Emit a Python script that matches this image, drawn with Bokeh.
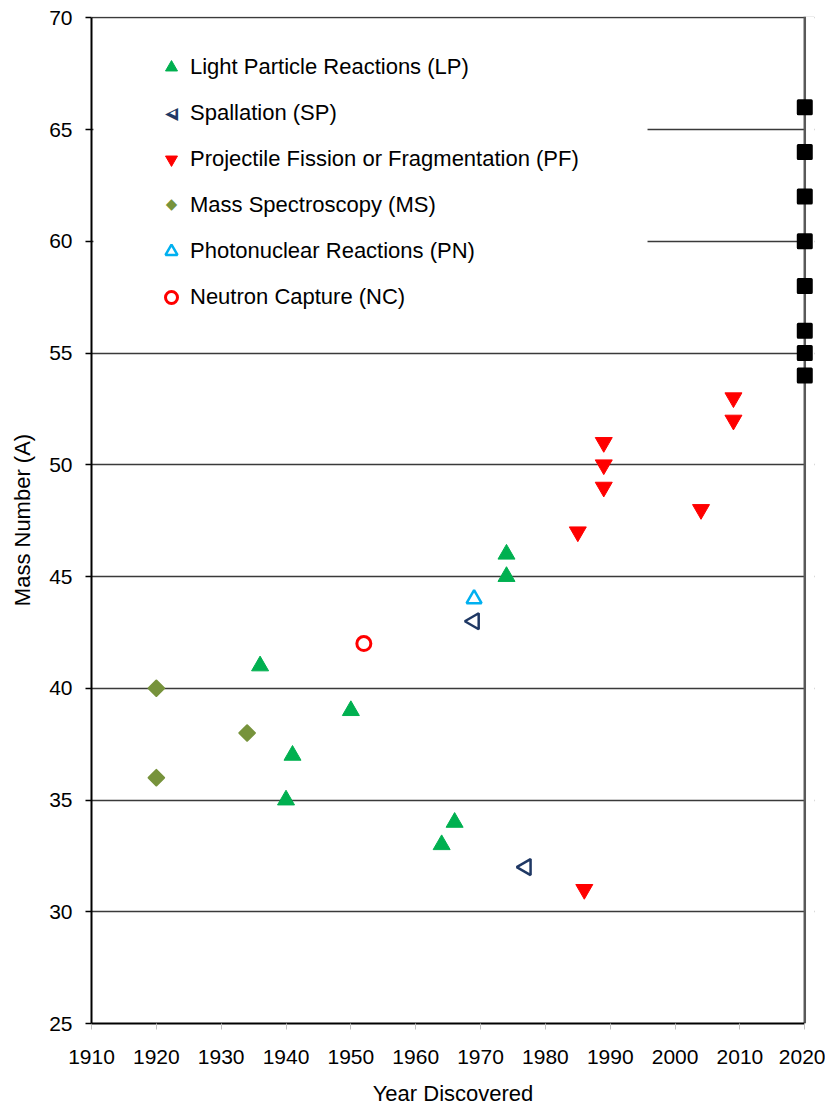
import math
from bokeh.plotting import figure
from bokeh.models import (FixedTicker, Range1d, Legend, LegendItem, BoxAnnotation,
                          Span, Label)
from bokeh.embed import file_html
from bokeh.resources import INLINE

# ---------------- data ----------------
lp_year = [1936, 1940, 1941, 1950, 1964, 1966, 1974, 1974]
lp_mass = [41, 35, 37, 39, 33, 34, 45, 46]

sp_year = [1969, 1977]
sp_mass = [43, 32]

pf_year = [1985, 1986, 1989, 1989, 1989, 2004, 2009, 2009]
pf_mass = [47, 31, 49, 50, 51, 48, 52, 53]

ms_year = [1920, 1920, 1934]
ms_mass = [36, 40, 38]

pn_year = [1969]
pn_mass = [44]

nc_year = [1952]
nc_mass = [42]

pred_year = [2020, 2020, 2020, 2020, 2020, 2020, 2020, 2020]
pred_mass = [54, 55, 56, 58, 60, 62, 64, 66]

x_ticks = [1910, 1920, 1930, 1940, 1950, 1960, 1970, 1980, 1990, 2000, 2010, 2020]
y_ticks = [25, 30, 35, 40, 45, 50, 55, 60, 65, 70]

labels = ["Light Particle Reactions (LP)", "Spallation (SP)",
          "Projectile Fission or Fragmentation (PF)", "Mass Spectroscopy (MS)",
          "Photonuclear Reactions (PN)", "Neutron Capture (NC)"]

FONT = "Liberation Sans"
X_MIN, X_MAX = 1910, 2020

p = figure(width=825, height=1108,
           x_range=Range1d(X_MIN, 2021.5), y_range=Range1d(25, 70.06),
           output_backend="svg", toolbar_location=None,
           min_border_left=91, min_border_right=11,
           min_border_top=16, min_border_bottom=85)
p.outline_line_color = None
p.background_fill_color = "white"
p.border_fill_color = "white"

# grid
p.xgrid.visible = False
p.ygrid.ticker = FixedTicker(ticks=y_ticks[1:])
p.ygrid.grid_line_color = "#3a3a3a"
p.ygrid.grid_line_width = 1.3

# white box behind legend (hides grid lines there)
p.add_layout(BoxAnnotation(left=X_MIN + 0.3, right=1995.75, bottom=56.5, top=69.9,
                           fill_color="white", fill_alpha=1.0, line_color=None,
                           level="underlay"))
# white strip right of the last year (grid stops at the right border)
p.add_layout(BoxAnnotation(left=X_MAX, fill_color="white", fill_alpha=1.0,
                           line_color=None, level="underlay"))

# right border
p.add_layout(Span(location=X_MAX, dimension="height", line_color="#595959",
                  line_width=2.5, level="underlay"))

# axes
p.yaxis.ticker = FixedTicker(ticks=y_ticks)
p.yaxis.bounds = (25, 70)
p.yaxis.axis_line_color = "black"
p.yaxis.axis_line_width = 2
p.yaxis.major_tick_line_color = "black"
p.yaxis.major_tick_line_width = 1.5
p.yaxis.major_tick_out = 6
p.yaxis.major_tick_in = 0
p.yaxis.minor_tick_line_color = None
p.yaxis.major_label_text_font = FONT
p.yaxis.major_label_text_font_size = "21px"
p.yaxis.major_label_text_color = "black"
p.yaxis.major_label_standoff = 13
p.yaxis.axis_label = "Mass Number (A)"
p.yaxis.axis_label_text_font = FONT
p.yaxis.axis_label_text_font_size = "22px"
p.yaxis.axis_label_text_font_style = "normal"
p.yaxis.axis_label_text_color = "black"
p.yaxis.axis_label_standoff = 11

p.xaxis.ticker = FixedTicker(ticks=x_ticks)
p.xaxis.bounds = (X_MIN, X_MAX)
p.xaxis.axis_line_color = "black"
p.xaxis.axis_line_width = 2
p.xaxis.major_tick_line_color = "#c0c0c0"
p.xaxis.major_tick_line_width = 1
p.xaxis.major_tick_out = 6
p.xaxis.major_tick_in = 0
p.xaxis.minor_tick_line_color = None
p.xaxis.major_label_text_font = FONT
p.xaxis.major_label_text_font_size = "21px"
p.xaxis.major_label_text_color = "black"
p.xaxis.major_label_standoff = 20
p.xaxis.axis_label = "Year Discovered"
p.xaxis.axis_label_text_font = FONT
p.xaxis.axis_label_text_font_size = "22px"
p.xaxis.axis_label_text_font_style = "normal"
p.xaxis.axis_label_text_color = "black"
p.xaxis.axis_label_standoff = 14

# glyphs
r_pred = p.scatter(pred_year, pred_mass, marker="square", size=13,
                   fill_color="black", line_color="black", line_width=3,
                   line_join="round")
r_lp = p.scatter(lp_year, lp_mass, marker="triangle", size=17,
                 fill_color="#00B050", line_color="#00B050", line_width=1)
r_sp = p.scatter(sp_year, sp_mass, marker="triangle", size=16, angle=math.pi / 2,
                 fill_alpha=0, line_color="#1F3864", line_width=2.5)
r_pf = p.scatter(pf_year, pf_mass, marker="inverted_triangle", size=17,
                 fill_color="#FF0000", line_color="#FF0000", line_width=1)
r_ms = p.scatter(ms_year, ms_mass, marker="square", size=11, angle=math.pi / 4,
                 fill_color="#77933C", line_color="#77933C", line_width=2,
                 line_join="round")
r_pn = p.scatter(pn_year, pn_mass, marker="triangle", size=15,
                 fill_alpha=0, line_color="#00B0F0", line_width=2.5)
r_nc = p.scatter(nc_year, nc_mass, marker="circle", size=14,
                 fill_alpha=0, line_color="#FF0000", line_width=3)

# legend placeholders for glyphs whose rotated shape the legend cannot show
r_sp_leg = p.scatter([], [], marker="triangle", fill_alpha=0, line_alpha=0)
r_ms_leg = p.scatter([], [], marker="square", fill_alpha=0, line_alpha=0)

items = [LegendItem(label=lab, renderers=[r])
         for lab, r in zip(labels, [r_lp, r_sp_leg, r_pf, r_ms_leg, r_pn, r_nc])]
legend = Legend(items=items, location=(65, 711), padding=0, margin=0,
                spacing=16, glyph_width=30, glyph_height=30, label_height=30,
                label_standoff=4, label_text_font=FONT,
                label_text_font_size="22px", label_text_color="black",
                background_fill_alpha=0, border_line_color=None)
p.add_layout(legend)

# rotated legend symbols (screen units, relative to the frame)
sp_row_y = 1007 - 112 + 16
ms_row_y = 1007 - 203 + 16
p.add_layout(Label(x=80, y=sp_row_y, x_units="screen", y_units="screen",
                   text="\u25C0", text_font="DejaVu Sans",
                   text_font_size="17px", text_color="#1F3864",
                   text_align="center", text_baseline="middle"))
p.add_layout(Label(x=81.3, y=sp_row_y, x_units="screen", y_units="screen",
                   text="\u25C0", text_font="DejaVu Sans",
                   text_font_size="7px", text_color="white",
                   text_align="center", text_baseline="middle"))
p.add_layout(Label(x=80, y=ms_row_y, x_units="screen", y_units="screen",
                   text="\u25C6", text_font="DejaVu Sans",
                   text_font_size="15px", text_color="#77933C",
                   text_align="center", text_baseline="middle"))

open("out.html", "w").write(file_html(p, INLINE))
